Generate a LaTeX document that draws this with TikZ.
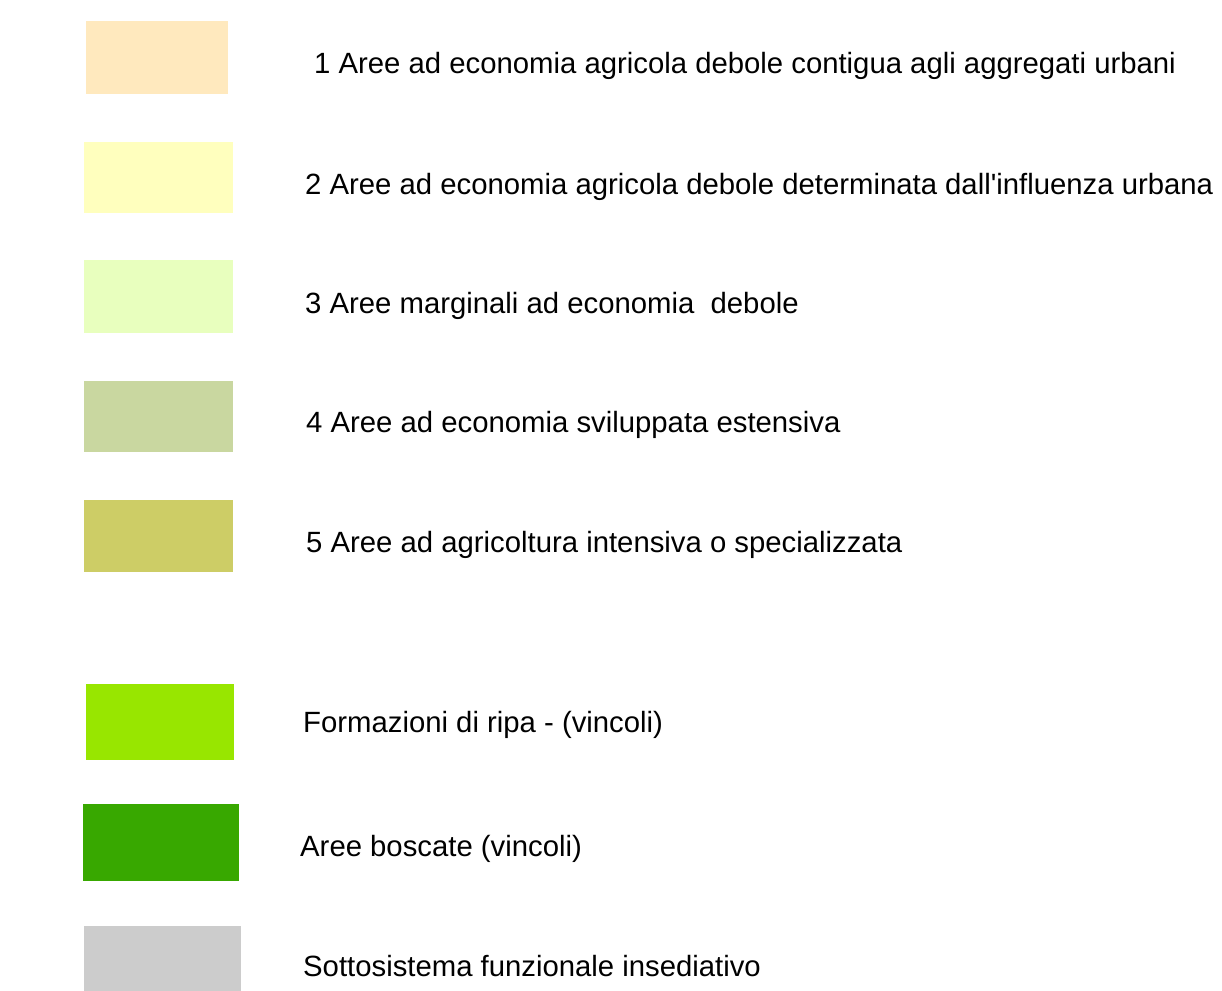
\documentclass[tikz,border=0pt]{standalone}
\usepackage{fontspec}
\setmainfont{Liberation Sans}
\definecolor{cA}{HTML}{FFE9BE}
\definecolor{cB}{HTML}{FFFFBE}
\definecolor{cC}{HTML}{E8FFBE}
\definecolor{cD}{HTML}{C9D7A0}
\definecolor{cE}{HTML}{CDCD66}
\definecolor{cF}{HTML}{98E600}
\definecolor{cG}{HTML}{38A800}
\definecolor{cH}{HTML}{CCCCCC}
\begin{document}
\begin{tikzpicture}[x=1pt,y=-1pt,
  swatch/.style={draw=none},
  lbl/.style={anchor=base west,inner sep=0pt,font=\fontsize{29.3}{33}\selectfont}]
\useasboundingbox[fill=white] (0,0) rectangle (1222,990);
\fill[cA] (86,21) rectangle (228,94);
\fill[cB] (84,142) rectangle (233,213);
\fill[cC] (84,260) rectangle (233,333);
\fill[cD] (84,381) rectangle (233,452);
\fill[cE] (84,500) rectangle (233,572);
\fill[cF] (86,684) rectangle (234,760);
\fill[cG] (83,804) rectangle (239,881);
\fill[cH] (84,926) rectangle (241,992);
\node[lbl] (t1) at (314,73) {1 Aree ad economia agricola debole contigua agli aggregati urbani};
\node[lbl] (t2) at (305,194) {2 Aree ad economia agricola debole determinata dall\textquotesingle influenza urbana};
\node[lbl] (t3) at (305,313) {3 Aree marginali ad economia\ \ debole};
\node[lbl] (t4) at (306,432) {4 Aree ad economia sviluppata estensiva};
\node[lbl] (t5) at (306,552) {5 Aree ad agricoltura intensiva o specializzata};
\node[lbl] (t6) at (303,732) {Formazioni di ripa - (vincoli)};
\node[lbl] (t7) at (300,856) {Aree boscate (vincoli)};
\node[lbl] (t8) at (303,976) {Sottosistema funzionale insediativo};
\end{tikzpicture}
\end{document}
